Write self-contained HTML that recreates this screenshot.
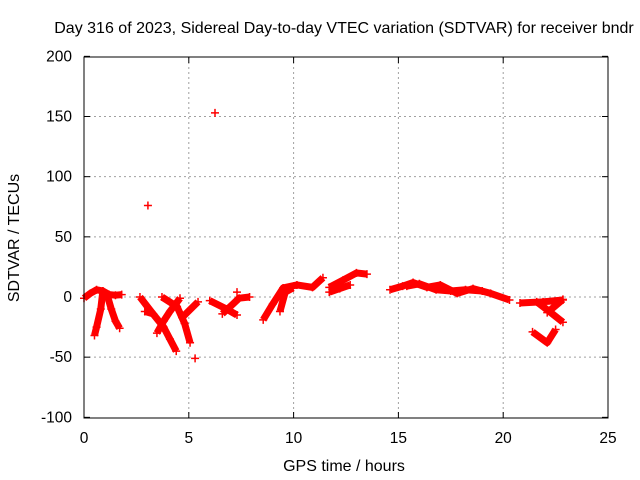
<!DOCTYPE html>
<html><head><meta charset="utf-8"><style>
html,body{margin:0;padding:0;background:#fff;}
svg{display:block;font-family:"Liberation Sans",sans-serif;}
</style></head><body>
<svg id="chart" width="640" height="480" viewBox="0 0 640 480" xmlns="http://www.w3.org/2000/svg">
<rect width="640" height="480" fill="#fff"/>
<text x="344" y="33" font-size="16" text-anchor="middle">Day 316 of 2023, Sidereal Day-to-day VTEC variation (SDTVAR) for receiver bndr</text>
<g id="grid"></g>
<g id="ticks"></g>
<g id="data"></g>
<rect x="84" y="57" width="524" height="361" fill="none" stroke="#000" stroke-width="1"/>
<text x="344" y="471" font-size="16" text-anchor="middle">GPS time / hours</text>
<text transform="translate(19,238) rotate(-90)" font-size="16" text-anchor="middle">SDTVAR / TECUs</text>
</svg>
<script>
const xTicks=[0,5,10,15,20,25];
const yTicks=[-100,-50,0,50,100,150,200];
const tracks=[
 [[0,-1],[0.3,3],[0.6,6],[0.9,5],[1.2,2],[1.5,1.5],[1.8,2]],
 [[0.9,5],[0.8,-10],[0.6,-25],[0.5,-32]],
 [[1.1,2],[1.3,-10],[1.5,-20],[1.7,-26]],
 [[2.67,0],[3.2,-12],[3.8,-25],[4.1,-35],[4.4,-45]],
 [[4.58,-1],[4.1,-12],[3.8,-20],[3.48,-30]],
 [[3.72,0],[4.44,-8],[4.8,-22],[5.06,-38]],
 [[5.44,-4],[4.68,-17]],
 [[2.9,-12],[3.3,-14]],
 [[6.0,-3],[6.8,-10],[7.3,-15]],
 [[6.6,-14],[7.1,-6],[7.4,-1],[7.9,0]],
 [[8.55,-19],[9.0,-6],[9.5,7.5],[10.16,10],[10.9,8],[11.4,16]],
 [[9.35,-12],[9.6,4],[9.97,7.5]],
 [[11.7,8],[12.36,14],[13.0,20],[13.5,19]],
 [[11.7,4],[12.2,7],[12.7,10]],
 [[14.6,6],[15.2,9],[15.7,12],[16.36,8],[17.0,10],[17.8,3],[18.56,7],[19.4,3],[20.3,-2.5]],
 [[15.4,9],[16.0,11],[16.8,6],[17.5,5],[18.2,6],[19.0,5]],
 [[20.8,-5],[21.9,-4],[22.85,-2.5]],
 [[21.6,-4],[22.2,-12],[22.85,-21]],
 [[22.85,-2],[22.1,-13]],
 [[21.4,-29],[22.1,-38],[22.5,-27]]
];
const singles=[[3.05,76],[6.25,153],[5.3,-51],[7.3,4]];
const X=h=>84+h*524/25;
const Y=v=>297-v*361/300;
const NS="http://www.w3.org/2000/svg";
const grid=document.getElementById('grid'),ticks=document.getElementById('ticks'),data=document.getElementById('data');
function mk(t,a,p){const e=document.createElementNS(NS,t);for(const k in a)e.setAttribute(k,a[k]);p.appendChild(e);return e;}
xTicks.forEach(t=>{
 if(t>0&&t<25){const g=mk('line',{x1:X(t),x2:X(t),y1:57,y2:418,stroke:'#a0a0a0','stroke-dasharray':'2,3'},grid);
 
 }
 mk('line',{x1:X(t),x2:X(t),y1:418,y2:412,stroke:'#000'},ticks);
 mk('line',{x1:X(t),x2:X(t),y1:57,y2:63,stroke:'#000'},ticks);
 const l=mk('text',{x:X(t),y:443,'font-size':15.5,'text-anchor':'middle'},ticks);
 
 
 l.textContent=t;
});
yTicks.forEach(t=>{
 if(t>-100&&t<200){const g=mk('line',{x1:84,x2:608,y1:Y(t),y2:Y(t),stroke:'#a0a0a0','stroke-dasharray':'2,3'},grid);
 
 }
 mk('line',{x1:84,x2:90,y1:Y(t),y2:Y(t),stroke:'#000'},ticks);
 mk('line',{x1:608,x2:602,y1:Y(t),y2:Y(t),stroke:'#000'},ticks);
 const l=mk('text',{x:72,y:Y(t)+5,'font-size':15.5,'text-anchor':'end'},ticks);
 
 
 l.textContent=t;
});
function plus(h,v){
 const x=X(h),y=Y(v);
 const p=mk('path',{d:`M${x-4},${y}H${x+4}M${x},${y-4}V${y+4}`,stroke:'#f00','stroke-width':1.5},data);
 
 
}
tracks.forEach(tr=>{
 const pl=mk('polyline',{points:tr.map(p=>X(p[0])+','+Y(p[1])).join(' '),fill:'none',stroke:'#f00','stroke-width':7,'stroke-linejoin':'round'},data);
 
 
 tr.forEach(p=>plus(p[0],p[1]));
});
singles.forEach(p=>plus(p[0],p[1]));
</script>
</body></html>
